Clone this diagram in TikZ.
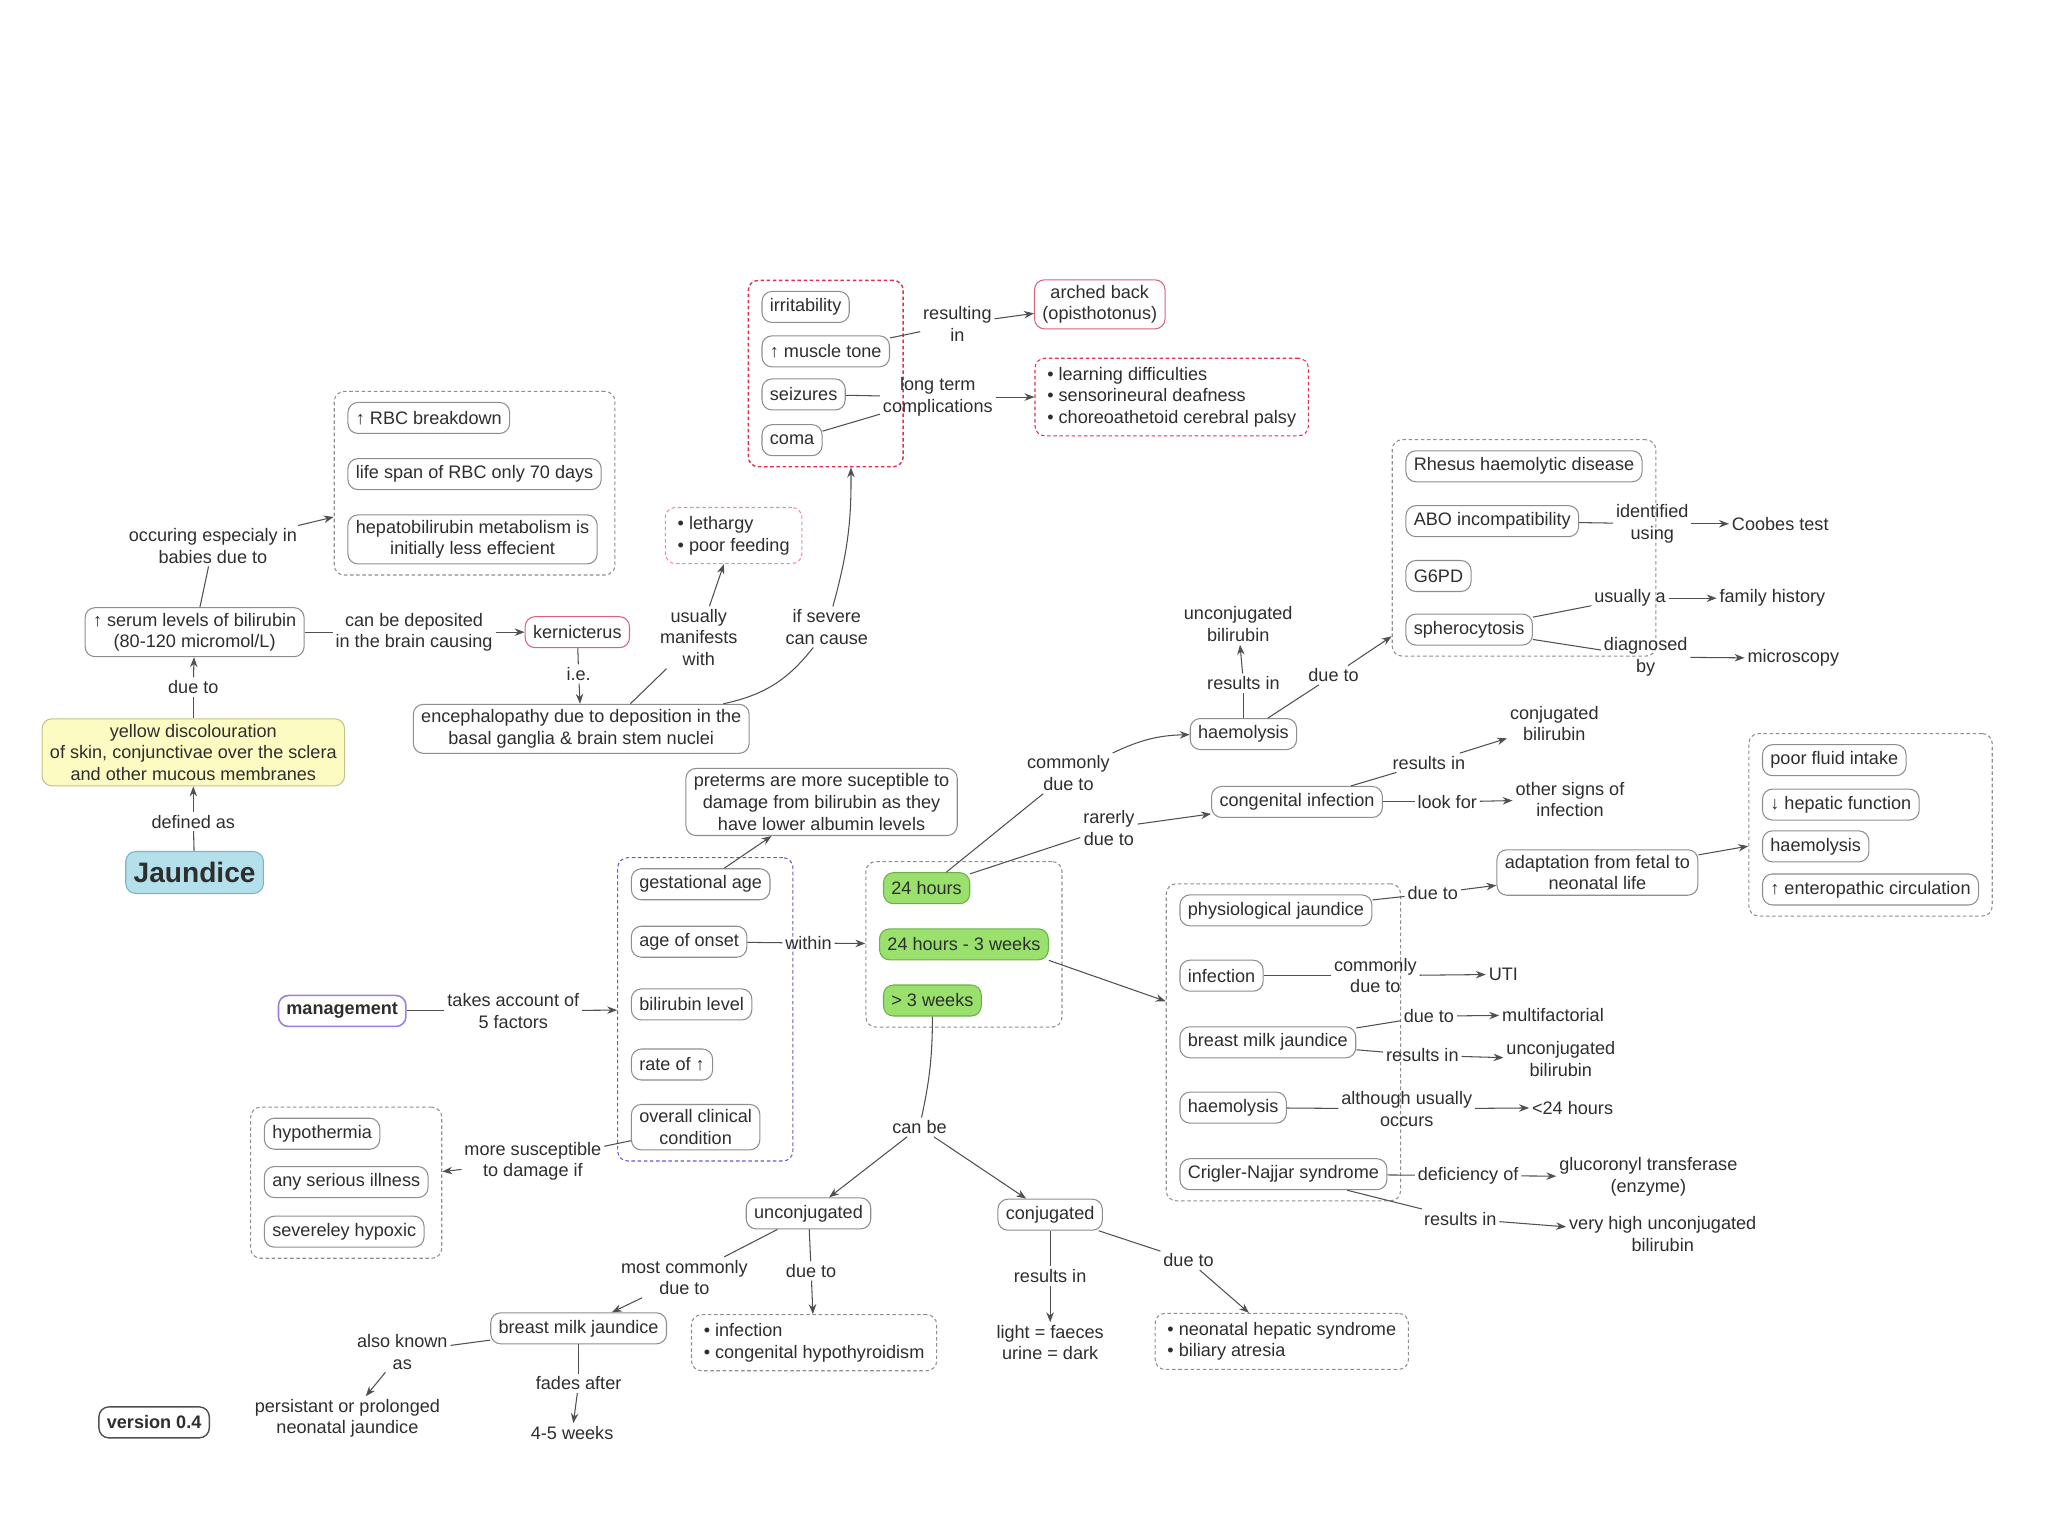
\documentclass[tikz,border=0pt]{standalone}
\usepackage{fontspec}
\setmainfont{Liberation Sans}
\usepackage{tikz}
\usetikzlibrary{arrows.meta,fit}
\definecolor{ink}{HTML}{2E2E2E}
\definecolor{wire}{HTML}{505050}
\definecolor{rim}{HTML}{8E8E8E}
\definecolor{redrim}{HTML}{E0304A}
\definecolor{pinkrim}{HTML}{D9647A}
\definecolor{lightpink}{HTML}{F08A9A}
\definecolor{purprim}{HTML}{6A58C8}
\definecolor{mgmtrim}{HTML}{9A7EE0}
\definecolor{grnfill}{HTML}{9AE06C}
\definecolor{grnrim}{HTML}{6DB04A}
\definecolor{ylwfill}{HTML}{FBFBC2}
\definecolor{ylwrim}{HTML}{C2C28A}
\definecolor{bluefill}{HTML}{B4E0EC}
\definecolor{bluerim}{HTML}{7FB2C2}

\begin{document}
\begin{tikzpicture}[x=0.026122cm,y=-0.026122cm,>={Stealth[length=2mm,width=1.5mm]},
  every node/.style={text=ink,font=\fontsize{10.3}{12.3}\selectfont},
  box/.style={draw=rim,line width=0.6pt,rounded corners=2mm,fill=white,align=center,inner xsep=4.5pt,inner ysep=3pt,minimum height=6.2mm},
  redbox/.style={box,draw=pinkrim},
  grnbox/.style={box,fill=grnfill,draw=grnrim},
  lbl/.style={align=center,inner sep=1.5pt},
  txt/.style={align=center,inner sep=1.5pt},
  bullets/.style={line width=0.6pt,dash pattern=on 2pt off 1.5pt,rounded corners=2mm,align=left,inner xsep=7pt,inner ysep=5pt},
  grp/.style={draw=rim,line width=0.6pt,dash pattern=on 2pt off 1.5pt,rounded corners=2mm,inner xsep=7.5pt,inner ysep=6pt},
  ln/.style={draw=wire,line width=0.6pt},
  arr/.style={ln,->},
]
\useasboundingbox (0,0) rectangle (1568,1176);

\node[box,anchor=west] (irr) at (583,235) {irritability};
\node[box,anchor=west] (tone) at (583,269) {↑ muscle tone};
\node[box,anchor=west] (seiz) at (583,302) {seizures};
\node[box,anchor=west] (coma) at (583,337) {coma};
\node[grp,draw=redrim,line width=0.8pt,fit=(irr)(tone)(seiz)(coma)] (grpRed) {};
\node[lbl] (lRes) at (733,248) {resulting\\in};
\node[redbox] (arched) at (842,233) {arched back\\(opisthotonus)};
\node[lbl] (lLong) at (718,304) {long term\\complications};
\node[bullets,draw=redrim,anchor=west] (compl) at (792,304) {• learning difficulties\\• sensorineural deafness\\• choreoathetoid cerebral palsy};

\node[box,anchor=west] (rbc) at (266,320) {↑ RBC breakdown};
\node[box,anchor=west] (life) at (266,363) {life span of RBC only 70 days};
\node[box,anchor=west] (hepa) at (266,413) {hepatobilirubin metabolism is\\initially less effecient};
\node[grp,fit=(rbc)(life)(hepa)] (grpL) {};
\node[lbl] (lOccur) at (163,418) {occuring especialy in\\babies due to};
\node[box] (serum) at (149,484) {↑ serum levels of bilirubin\\(80-120 micromol/L)};
\node[lbl] (lDepos) at (317,484) {can be deposited\\in the brain causing};
\node[redbox] (kern) at (442,484) {kernicterus};
\node[lbl] (lIe) at (443,516) {i.e.};
\node[box] (enceph) at (445,558) {encephalopathy due to deposition in the\\basal ganglia \& brain stem nuclei};
\node[lbl] (lManif) at (535,488) {usually\\manifests\\with};
\node[bullets,draw=lightpink,anchor=west] (leth) at (509,410) {• lethargy\\• poor feeding};
\node[lbl] (lSevere) at (633,480) {if severe\\can cause};
\node[box,fill=ylwfill,draw=ylwrim] (yellow) at (148,576) {yellow discolouration\\of skin, conjunctivae over the sclera\\and other mucous membranes};
\node[lbl] (lDue1) at (148,526) {due to};
\node[lbl] (lDef) at (148,629) {defined as};
\node[box,fill=bluefill,draw=bluerim,minimum height=8.4mm,font=\fontsize{16}{19}\selectfont\bfseries] (jaun) at (149,668) {Jaundice};

\node[box] (preterm) at (629,614) {preterms are more suceptible to\\damage from bilirubin as they\\have lower albumin levels};
\node[box,anchor=west] (gest) at (483,677) {gestational age};
\node[box,anchor=west] (onset) at (483,721) {age of onset};
\node[box,anchor=west] (bili) at (483,769) {bilirubin level};
\node[box,anchor=west] (rate) at (483,815) {rate of ↑};
\node[box,anchor=west] (overall) at (483,863) {overall clinical\\condition};
\coordinate (pEdge) at (597,700);
\node[grp,draw=purprim,fit=(gest)(onset)(overall)(pEdge)] (grpP) {};
\node[lbl] (lWithin) at (619,722) {within};
\node[grnbox,anchor=west] (h24) at (676,680) {24 hours};
\node[grnbox,anchor=west] (h24w) at (673,723) {24 hours - 3 weeks};
\node[grnbox,anchor=west] (w3) at (676,766) {> 3 weeks};
\node[grp,fit=(h24)(h24w)(w3)] (grpG) {};
\node[box,draw=mgmtrim,line width=0.9pt,font=\fontsize{10.3}{12.3}\selectfont\bfseries] (mgmt) at (262,774) {management};
\node[lbl] (lTakes) at (393,774) {takes account of\\5 factors};
\node[lbl] (lMore) at (408,889) {more susceptible\\to damage if};
\node[box,anchor=west] (hypo) at (202,868) {hypothermia};
\node[box,anchor=west] (ill) at (202,905) {any serious illness};
\node[box,anchor=west] (hypox) at (202,943) {severeley hypoxic};
\node[grp,fit=(hypo)(ill)(hypox)] (grpS) {};

\node[lbl] (lComm) at (818,592) {commonly\\due to};
\node[box] (haem1) at (952,562) {haemolysis};
\node[lbl] (lRare) at (849,634) {rarerly\\due to};
\node[box] (cong) at (993,614) {congenital infection};
\node[lbl] (lRes1) at (952,523) {results in};
\node[txt] (unconjB) at (948,478) {unconjugated\\bilirubin};
\node[lbl] (lDue2) at (1021,517) {due to};
\node[box,anchor=west] (rhesus) at (1076,357) {Rhesus haemolytic disease};
\node[box,anchor=west] (abo) at (1076,399) {ABO incompatibility};
\node[box,anchor=west] (g6pd) at (1076,441) {G6PD};
\node[box,anchor=west] (sphero) at (1076,482) {spherocytosis};
\node[grp,fit=(rhesus)(abo)(g6pd)(sphero)] (grpR) {};
\node[lbl] (lIdent) at (1265,401) {identified\\using};
\node[txt] (coobes) at (1363,401) {Coobes test};
\node[lbl] (lUsual) at (1248,458) {usually a};
\node[txt] (famh) at (1357,458) {family history};
\node[lbl] (lDiag) at (1260,503) {diagnosed\\by};
\node[txt] (micro) at (1373,504) {microscopy};
\node[lbl] (lRes2) at (1094,584) {results in};
\node[txt] (conjB) at (1190,554) {conjugated\\bilirubin};
\node[lbl] (lLook) at (1108,614) {look for};
\node[txt] (other) at (1202,612) {other signs of\\infection};

\node[box,anchor=west] (phys) at (903,697) {physiological jaundice};
\node[box,anchor=west] (infec) at (903,747) {infection};
\node[box,anchor=west] (bmj) at (903,798) {breast milk jaundice};
\node[box,anchor=west] (haem2) at (903,848) {haemolysis};
\node[box,anchor=west] (crig) at (903,899) {Crigler-Najjar syndrome};
\node[grp,fit=(phys)(infec)(bmj)(haem2)(crig)] (grpM) {};
\node[lbl] (lDue3) at (1097,684) {due to};
\node[box] (adapt) at (1223,668) {adaptation from fetal to\\neonatal life};
\node[box,anchor=west] (fluid) at (1349,582) {poor fluid intake};
\node[box,anchor=west] (hep) at (1349,616) {↓ hepatic function};
\node[box,anchor=west] (haem3) at (1349,648) {haemolysis};
\node[box,anchor=west] (entero) at (1349,681) {↑ enteropathic circulation};
\node[grp,fit=(fluid)(hep)(haem3)(entero)] (grpF) {};
\node[lbl] (lComm2) at (1053,747) {commonly\\due to};
\node[txt] (uti) at (1151,746) {UTI};
\node[lbl] (lDue4) at (1094,778) {due to};
\node[txt] (multi) at (1189,777) {multifactorial};
\node[lbl] (lRes3) at (1089,808) {results in};
\node[txt] (unconjC) at (1195,811) {unconjugated\\bilirubin};
\node[lbl] (lAlth) at (1077,849) {although usually\\occurs};
\node[txt] (lt24) at (1204,848) {<24 hours};
\node[lbl] (lDefic) at (1124,900) {deficiency of};
\node[txt] (gluc) at (1262,901) {glucoronyl transferase\\(enzyme)};
\node[lbl] (lRes4) at (1118,933) {results in};
\node[txt] (vhigh) at (1273,945) {very high unconjugated\\bilirubin};

\node[lbl] (lCanbe) at (704,863) {can be};
\node[box] (unconj) at (619,929) {unconjugated};
\node[box] (conj) at (804,930) {conjugated};
\node[lbl] (lMostC) at (524,978) {most commonly\\due to};
\node[box] (bmj2) at (443,1017) {breast milk jaundice};
\node[lbl] (lDue5) at (621,973) {due to};
\node[bullets,draw=rim,anchor=west] (infl) at (529,1028) {• infection\\• congenital hypothyroidism};
\node[lbl] (lRes5) at (804,977) {results in};
\node[txt] (light) at (804,1028) {light = faeces\\urine = dark};
\node[lbl] (lDue6) at (910,965) {due to};
\node[bullets,draw=rim,anchor=west] (hepl) at (884,1027) {• neonatal hepatic syndrome\\• biliary atresia};
\node[lbl] (lKnown) at (308,1035) {also known\\as};
\node[txt] (persist) at (266,1086) {persistant or prolonged\\neonatal jaundice};
\node[lbl] (lFades) at (443,1059) {fades after};
\node[txt] (weeks) at (438,1097) {4-5 weeks};
\node[box,draw=wire,line width=0.8pt,font=\fontsize{10.3}{12.3}\selectfont\bfseries] (version) at (118,1089) {version 0.4};

\draw[ln] (tone) -- (lRes);
\draw[arr] (lRes) -- (arched);
\draw[ln] (seiz) -- (lLong);
\draw[ln] (coma) -- (lLong);
\draw[arr] (lLong) -- (compl);
\draw[ln] (jaun) -- (lDef);
\draw[arr] (lDef) -- (yellow);
\draw[ln] (yellow) -- (lDue1);
\draw[arr] (lDue1) -- (serum);
\draw[ln] (serum) -- (lOccur);
\draw[arr] (lOccur) -- (grpL);
\draw[ln] (serum) -- (lDepos);
\draw[arr] (lDepos) -- (kern);
\draw[ln] (kern) -- (lIe);
\draw[arr] (lIe) -- (enceph);
\draw[ln] (enceph.27) -- (lManif);
\draw[arr] (lManif) -- (leth);
\draw[ln] (enceph.10) to[bend right=20] (lSevere);
\draw[arr] (lSevere) to[bend right=8] (grpRed.-75);
\draw[arr] (gest) -- (preterm);
\draw[ln] (onset) -- (lWithin);
\draw[arr] (lWithin) -- (grpG);
\draw[ln] (mgmt) -- (lTakes);
\draw[arr] (lTakes) -- (grpP);
\draw[ln] (overall) -- (lMore);
\draw[arr] (lMore) -- (grpS);
\draw[ln] (h24) -- (lComm);
\draw[arr] (lComm) to[bend left=12] (haem1);
\draw[ln] (h24) -- (lRare);
\draw[arr] (lRare) -- (cong);
\draw[ln] (haem1) -- (lRes1);
\draw[arr] (lRes1) -- (unconjB);
\draw[ln] (haem1) -- (lDue2);
\draw[arr] (lDue2) -- (grpR);
\draw[ln] (abo) -- (lIdent);
\draw[arr] (lIdent) -- (coobes);
\draw[ln] (sphero) -- (lUsual);
\draw[arr] (lUsual) -- (famh);
\draw[ln] (sphero) -- (lDiag);
\draw[arr] (lDiag) -- (micro);
\draw[ln] (cong) -- (lRes2);
\draw[arr] (lRes2) -- (conjB);
\draw[ln] (cong) -- (lLook);
\draw[arr] (lLook) -- (other);
\draw[arr] (h24w.south east) -- (grpM);
\draw[ln] (phys) -- (lDue3);
\draw[arr] (lDue3) -- (adapt);
\draw[arr] (adapt) -- (grpF);
\draw[ln] (infec) -- (lComm2);
\draw[arr] (lComm2) -- (uti);
\draw[ln] (bmj) -- (lDue4);
\draw[arr] (lDue4) -- (multi);
\draw[ln] (bmj) -- (lRes3);
\draw[arr] (lRes3) -- (unconjC);
\draw[ln] (haem2) -- (lAlth);
\draw[arr] (lAlth) -- (lt24);
\draw[ln] (crig) -- (lDefic);
\draw[arr] (lDefic) -- (gluc);
\draw[ln] (crig) -- (lRes4);
\draw[arr] (lRes4) -- (vhigh);
\draw[ln] (w3) to[bend left=6] (lCanbe);
\draw[arr] (lCanbe) -- (unconj);
\draw[arr] (lCanbe) -- (conj);
\draw[ln] (unconj) -- (lMostC);
\draw[arr] (lMostC) -- (bmj2);
\draw[ln] (unconj) -- (lDue5);
\draw[arr] (lDue5) -- (infl);
\draw[ln] (conj) -- (lRes5);
\draw[arr] (lRes5) -- (light);
\draw[ln] (conj) -- (lDue6);
\draw[arr] (lDue6) -- (hepl);
\draw[ln] (bmj2) -- (lKnown);
\draw[arr] (lKnown) -- (persist);
\draw[ln] (bmj2) -- (lFades);
\draw[arr] (lFades) -- (weeks);
\end{tikzpicture}
\end{document}
